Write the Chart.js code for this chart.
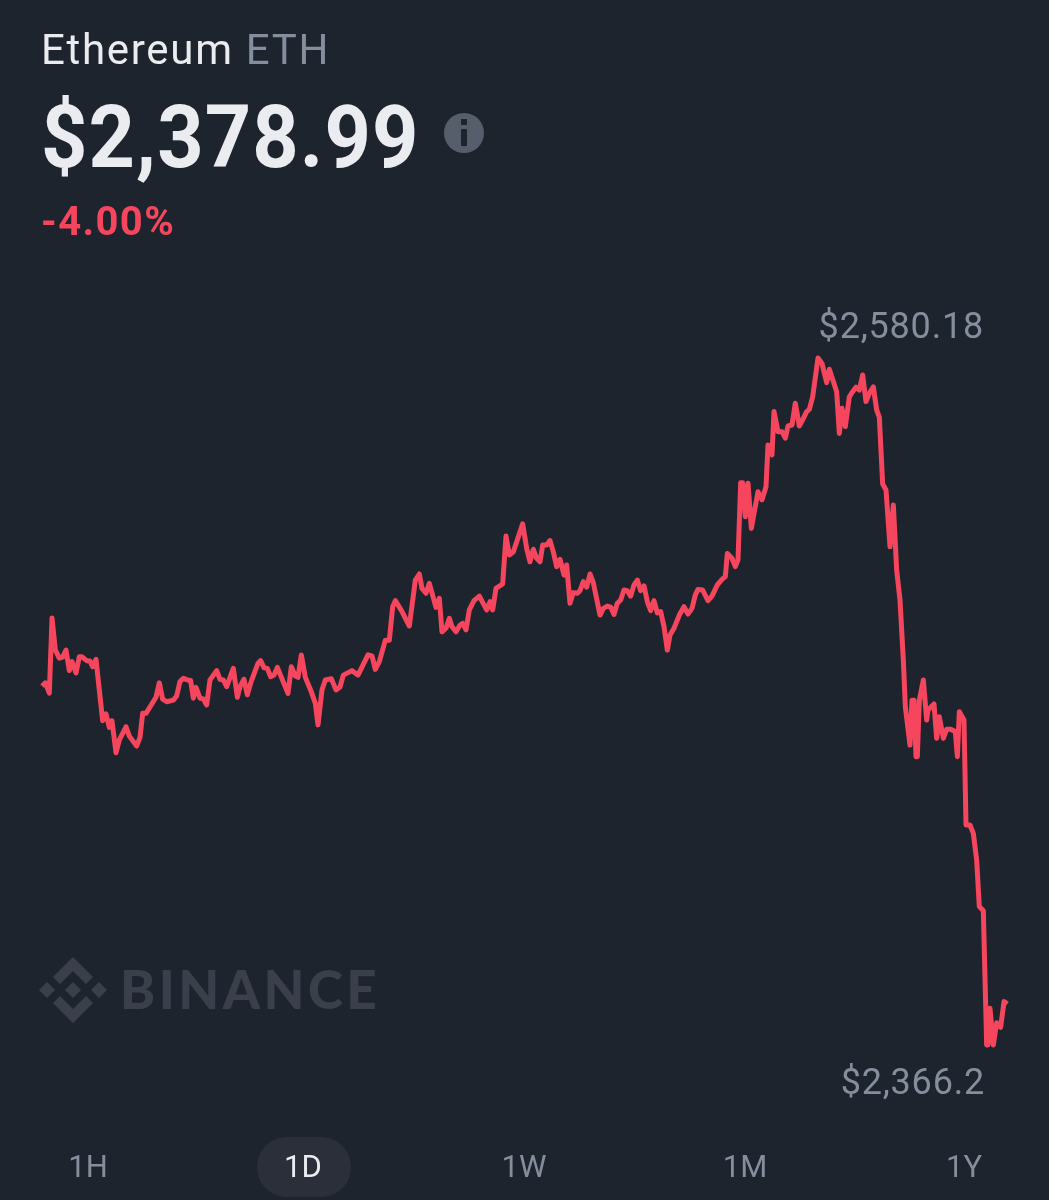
<!DOCTYPE html>
<html>
<head>
<meta charset="utf-8">
<title>Ethereum ETH</title>
<script src="https://cdn.jsdelivr.net/npm/chart.js@4"></script>
<style>
html, body { margin: 0; padding: 0; background: #1e242e; }
#page { position: relative; width: 1049px; height: 1200px; overflow: hidden; font-family: Roboto, sans-serif; }
#page div { position: absolute; white-space: nowrap; }
#priceChart { position: absolute; left: 0; top: 0; }
#name { left: 41px; top: 26px; font-size: 42px; line-height: 48px; color: #eaecef; letter-spacing: 1.7px; }
#name span { color: #848e9c; }
#price { left: 41px; top: 85px; font-size: 88px; line-height: 104px; font-weight: 700; color: #eaecef; letter-spacing: 1.2px; transform: scaleX(0.92); transform-origin: left top; }
#change { left: 41px; top: 199px; font-size: 40px; line-height: 46px; font-weight: 700; color: #f6465d; letter-spacing: 1.4px; }
.range-label { top: 1147px; width: 100px; text-align: center; font-size: 31px; line-height: 40px; color: #848e9c; }
.range-label.on { color: #eaecef; }
#pill { left: 257px; top: 1137px; width: 94px; height: 60px; border-radius: 30px; background: #2a2f3a; }
.extreme { font-size: 36px; line-height: 42px; color: #848e9c; text-align: right; letter-spacing: 0.8px; }
#high { right: 65px; top: 305px; }
#low { right: 64px; top: 1061px; }
#wordmark { left: 120px; top: 958px; font-family: Lato, sans-serif; font-weight: 900; font-size: 53px; line-height: 62px; color: #3a3f4b; letter-spacing: 3.5px; }
svg { position: absolute; left: 0; top: 0; }
</style>
</head>
<body>
<div id="page">
  <svg width="1049" height="1200">
    <g fill="#3a3f4b">
      <polygon points="73,957 93,977 86,984 73,971 60,984 53,977"/>
      <polygon points="73,1023 93,1003 86,996 73,1009 60,996 53,1003"/>
      <polygon points="47,982 55,990 47,998 39,990"/>
      <polygon points="99,982 107,990 99,998 91,990"/>
      <polygon points="73,982 81,990 73,998 65,990"/>
    </g>
    <circle cx="464" cy="133" r="20" fill="#565e6b"/>
    <rect x="461" y="119" width="6" height="6" fill="#1e242e"/>
    <rect x="461" y="129" width="6" height="17" fill="#1e242e"/>
  </svg>
  <div id="wordmark">BINANCE</div>
  <div id="pill"></div>
  <canvas id="priceChart" width="1049" height="1200"></canvas>
  <div id="name">Ethereum <span>ETH</span></div>
  <div id="price">$2,378.99</div>
  <div id="change">-4.00%</div>
  <div id="high" class="extreme">$2,580.18</div>
  <div id="low" class="extreme">$2,366.2</div>
</div>
<script>
// minutes since the start of the 1D window
const minutes = [0,5,11,15,20,26,31,36,41,45,51,56,60,67,72,76,81,91,96,101,105,111,116,126,131,142,147,151,156,171,
176,181,187,197,202,207,212,218,223,227,231,237,242,247,252,262,267,272,277,287,293,297,303,308,313,324,328,333,338,343,
348,353,369,374,380,384,389,395,404,410,414,420,425,434,441,447,452,465,474,489,495,500,506,515,521,526,530,540,551,560,
566,570,576,581,591,596,600,606,611,615,621,627,631,636,641,648,656,667,672,676,681,691,696,701,707,721,727,732,737,742,
747,751,757,762,767,772,777,783,787,792,797,803,807,812,817,822,827,837,842,848,853,858,863,868,873,878,883,888,893,898,
903,908,913,918,923,928,933,938,942,948,956,963,969,975,980,984,991,999,1005,1013,1020,1025,1028,1035,1040,1044,1048,1051,1055,1059,
1064,1074,1080,1086,1089,1095,1098,1104,1110,1115,1119,1125,1130,1136,1141,1147,1151,1156,1164,1170,1177,1181,1192,1196,1200,1205,1211,1216,1221,1226,
1231,1236,1241,1247,1252,1256,1261,1266,1272,1277,1282,1287,1292,1295,1302,1305,1308,1311,1313,1316,1322,1327,1329,1338,1342,1346,1352,1357,1363,1370,
1373,1376,1383,1386,1392,1397,1402,1406,1412,1417,1419,1422,1427,1432,1438,1443,1448];

// ETH price in USD
const prices = [2478.0,2479.0,2475.8,2499.2,2489.2,2486.7,2487.0,2489.2,2482.8,2485.6,2482.1,2487.1,2487.1,2485.9,2485.8,2484.0,2486.3,2467.2,2469.3,2465.1,2467.2,2457.2,2461.2,2465.3,2462.4,2459.3,2462.0,2469.5,2469.5,2474.5,
2479.0,2473.9,2473.1,2473.6,2474.9,2479.4,2480.4,2479.9,2479.7,2474.2,2477.6,2474.2,2474.0,2472.1,2479.9,2482.8,2480.1,2479.9,2477.8,2483.5,2474.5,2477.8,2480.1,2475.3,2478.9,2485.1,2485.9,2483.7,2483.5,2480.9,
2481.4,2483.8,2475.7,2484.0,2481.1,2480.7,2487.7,2480.7,2476.2,2472.6,2465.9,2476.8,2479.9,2480.3,2476.8,2477.7,2481.4,2482.8,2481.4,2487.7,2487.4,2483.2,2485.6,2492.3,2492.3,2502.7,2504.6,2501.2,2496.7,2511.0,
2512.9,2508.4,2506.9,2510.0,2502.5,2505.3,2494.9,2496.0,2499.1,2496.5,2494.9,2497.0,2497.5,2495.5,2501.7,2504.6,2506.0,2501.7,2504.3,2501.7,2508.4,2509.8,2524.7,2518.8,2519.8,2528.5,2520.9,2516.7,2520.6,2517.8,
2516.7,2521.9,2521.9,2523.3,2519.8,2515.2,2517.5,2512.6,2515.7,2503.8,2507.1,2506.9,2507.7,2510.5,2508.8,2512.9,2510.2,2500.1,2502.2,2502.9,2502.6,2500.3,2503.8,2504.8,2507.9,2507.7,2506.0,2509.5,2511.0,2507.7,
2509.2,2504.3,2501.5,2504.6,2500.8,2501.2,2496.5,2489.2,2493.9,2496.0,2500.1,2502.7,2500.4,2502.2,2506.4,2508.1,2507.9,2504.6,2506.0,2509.5,2511.2,2512.1,2519.3,2517.8,2515.2,2517.3,2541.3,2541.3,2530.7,2541.2,
2527.1,2538.5,2536.0,2540.1,2553.1,2550.0,2563.5,2557.2,2557.2,2555.2,2559.0,2559.3,2566.1,2559.0,2560.9,2563.5,2564.2,2568.1,2580.18,2578.5,2572.5,2576.7,2569.7,2556.7,2564.5,2558.8,2568.1,2569.7,2571.1,2570.2,
2574.9,2566.6,2569.2,2571.2,2564.0,2561.7,2540.9,2539.1,2521.4,2534.4,2514.1,2504.8,2486.1,2471.6,2459.6,2473.6,2473.6,2456.0,2456.0,2473.6,2479.9,2467.4,2470.5,2472.4,2461.7,2468.4,2461.7,2464.5,2464.5,2463.8,
2456.0,2470.0,2467.4,2434.7,2434.7,2432.1,2423.8,2409.3,2408.0,2366.2,2366.2,2377.6,2366.2,2373.1,2371.7,2379.7,2378.99];

const rangeLabels = ["1H", "1D", "1W", "1M", "1Y"];
const rangeCenters = [88, 303, 524, 745, 964];
const activeRange = "1D";

// Range selector under the chart
rangeLabels.forEach((label, i) => {
    const el = document.createElement("div");
    el.className = "range-label" + (label === activeRange ? " on" : "");
    el.style.left = (rangeCenters[i] - 50) + "px";
    el.textContent = label;
    document.getElementById("page").appendChild(el);
});

new Chart(document.getElementById("priceChart").getContext("2d"), {
    type: "line",
    data: {
        datasets: [{
            label: "ETH",
            data: minutes.map((m, i) => ({ x: m, y: prices[i] })),
            borderColor: "#f6465d",
            borderWidth: 5,
            borderJoinStyle: "round",
            pointRadius: 0,
            tension: 0,
            fill: false
        }]
    },
    options: {
        responsive: false,
        animation: false,
        layout: { padding: 0 },
        plugins: { legend: { display: false }, tooltip: { enabled: false } },
        scales: {
            x: { type: "linear", display: false, min: -63, max: 1510.5 },
            y: { display: false, min: 2317.9, max: 2691.7 }
        }
    }
});
</script>
</body>
</html>
